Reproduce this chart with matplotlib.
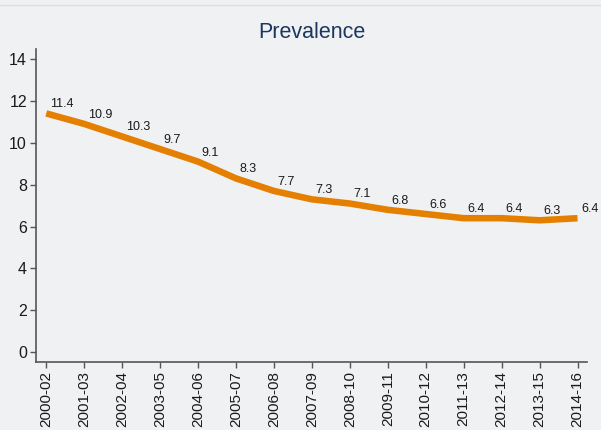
import matplotlib
matplotlib.use("Agg")
import matplotlib.pyplot as plt
from matplotlib.lines import Line2D

plt.rcParams["font.family"] = ["Liberation Sans", "DejaVu Sans"]

periods = ["2000-02", "2001-03", "2002-04", "2003-05", "2004-06", "2005-07",
           "2006-08", "2007-09", "2008-10", "2009-11", "2010-12", "2011-13",
           "2012-14", "2013-15", "2014-16"]
prevalence = [11.4, 10.9, 10.3, 9.7, 9.1, 8.3, 7.7, 7.3, 7.1, 6.8, 6.6, 6.4,
              6.4, 6.3, 6.4]
y_ticks = [0, 2, 4, 6, 8, 10, 12, 14]

bg = "#f0f1f3"
axis_col = "#555555"
text_col = "#1a1a1a"

fig = plt.figure(figsize=(6.01, 4.30), dpi=100, facecolor=bg)
ax = fig.add_axes([0.0599, 0.1588, 0.9168, 0.7265], facecolor=bg)

# thin rule along the top edge
fig.add_artist(Line2D([0, 1], [1 - 5 / 430, 1 - 5 / 430], transform=fig.transFigure,
                      color="#dcdde1", lw=1.0))

x = list(range(len(periods)))
ax.plot(x, prevalence, color="#e57f00", lw=4.7, solid_capstyle="butt",
        solid_joinstyle="miter")

for xi, v in zip(x, prevalence):
    ax.annotate(f"{v:.1f}", (xi, v), xytext=(2.7, 4.4), textcoords="offset points",
                ha="left", va="baseline", fontsize=9, color=text_col)

ax.set_xlim(-0.27, 14.25)
ax.set_ylim(-0.45, 14.46)
ax.set_xticks(x)
ax.set_xticklabels(periods, rotation=90, fontsize=11, color=text_col)
ax.set_yticks(y_ticks)
ax.set_yticklabels([str(t) for t in y_ticks], fontsize=11.5, color=text_col)

for side in ("top", "right"):
    ax.spines[side].set_visible(False)
for side in ("left", "bottom"):
    ax.spines[side].set_color(axis_col)
    ax.spines[side].set_linewidth(1.2)
ax.tick_params(axis="both", direction="out", length=4.5, width=1.0,
               color=axis_col, pad=2)

ax.set_title("Prevalence", fontsize=15.5, color="#1b365f", pad=8)

fig.savefig("out.png", dpi=100, facecolor=bg)
